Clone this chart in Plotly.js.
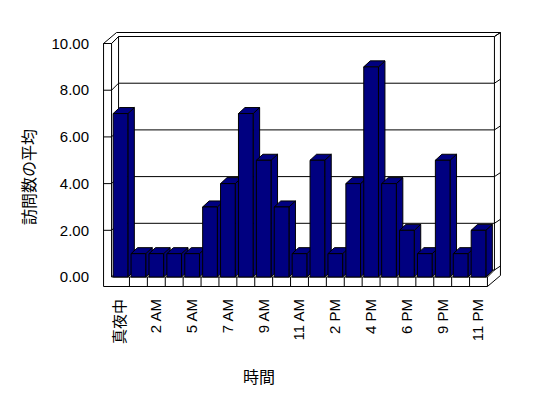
<!DOCTYPE html>
<html><head><meta charset="utf-8">
<script src="https://cdn.plot.ly/plotly-3.0.1.min.js"></script>
<style>html,body{margin:0;padding:0;background:#fff}</style>
</head><body><div id="chart" style="width:548px;height:398px"></div>
<script>
// ---- data ----
const categories = ['真夜中','1 AM','2 AM','3 AM','5 AM','6 AM','7 AM','8 AM','9 AM','10 AM','11 AM','正午','2 PM','3 PM','4 PM','5 PM','6 PM','7 PM','9 PM','10 PM','11 PM'];
const visits = [7,1,1,1,1,3,4,7,5,3,1,5,1,4,9,4,2,1,5,1,2];
const yTickValues = [0,2,4,6,8,10];
const xTitle = '時間';
const yTitle = '訪問数の平均';

// ---- geometry (in axis units) ----
const n = categories.length;
const idx = categories.map((c,i)=>i);
const BW = 0.82, BDX = 0.363, BDY = 0.257;       // bar width, bar depth offset
const DX = 0.391, DY = 0.30;                      // wall depth offset
const TX = 0.335, TY = 0.171;                     // wall thickness offset
const XL = -0.5, XR = n - 0.5, XO = XL - 0.447, YF = -0.407;
const YMAX = yTickValues[yTickValues.length-1];
const NAVY = '#000080';

const shapes = [];
function ln(x0,y0,x1,y1){shapes.push({type:'line',xref:'x',yref:'y',x0,y0,x1,y1,layer:'below',line:{color:'#000',width:1}});}
function poly(pts){
  const d = 'M' + pts.map(p=>p[0]+','+p[1]).join(' L') + ' Z';
  shapes.push({type:'path',xref:'x',yref:'y',path:d,layer:'below',fillcolor:NAVY,line:{color:'#000',width:1}});
}
// left wall
ln(XO,YF,XO,YMAX); ln(XL,0,XL,YMAX); ln(XO,YMAX,XL,YMAX);
ln(XL,YMAX,XL+DX,YMAX+DY);
ln(XO,YMAX,XO+DX+TX,YMAX+DY+TY);
ln(XL+DX,DY,XL+DX,YMAX+DY);
// back wall
ln(XO+DX+TX,YMAX+DY+TY,XR+DX+TX,YMAX+DY+TY);
ln(XR+DX,YMAX+DY,XR+DX+TX,YMAX+DY+TY);
ln(XR+DX,DY,XR+DX,YMAX+DY);
ln(XR+DX+TX,YF+DY+TY,XR+DX+TX,YMAX+DY+TY);
// gridlines
yTickValues.forEach(v=>{
  if(v>0) ln(XO,v,XL,v);
  ln(XL,v,XL+DX,v+DY);
  ln(XL+DX,v+DY,XR+DX,v+DY);
  ln(XR+DX,v+DY,XR+DX+TX,v+DY+TY);
});
// floor
ln(XL,0,XR,0); ln(XO,YF,XR,YF); ln(XR,YF,XR,0);
ln(XR,0,XR+DX,DY); ln(XR,YF,XR+DX+TX,YF+DY+TY);
for(let i=0;i<n-1;i++) ln(i+0.5,YF,i+0.5,0);
// bar sides and tops
visits.forEach((v,i)=>{
  const xl=i-BW/2, xr=i+BW/2;
  poly([[xr,0],[xr,v],[xr+BDX,v+BDY],[xr+BDX,BDY]]);
  poly([[xl,v],[xr,v],[xr+BDX,v+BDY],[xl+BDX,v+BDY]]);
});

const FONT = 'Liberation Sans, Arial, Noto Sans CJK JP, sans-serif';
const trace = {type:'bar', x:idx, y:visits, width:BW, marker:{color:NAVY,line:{color:'#000',width:1}}, hoverinfo:'skip'};
const layout = {
  width:548, height:398, margin:{l:103,r:46,t:32,b:111},
  paper_bgcolor:'#fff', plot_bgcolor:'rgba(0,0,0,0)', showlegend:false,
  font:{family:FONT,color:'#000',size:15},
  xaxis:{range:[-0.978,21.313], showgrid:false, zeroline:false, showline:false,
    tickmode:'array', tickvals:idx.filter(i=>i%2===0), ticktext:categories.filter((c,i)=>i%2===0),
    tickangle:-90, ticks:'outside', ticklen:5, tickcolor:'rgba(0,0,0,0)', tickfont:{size:15}, fixedrange:true},
  yaxis:{range:[-0.428,10.493], showgrid:false, zeroline:false, showline:false,
    tickmode:'array', tickvals:yTickValues, ticktext:yTickValues.map(v=>v.toFixed(2)),
    ticks:'outside', ticklen:10, tickcolor:'rgba(0,0,0,0)', tickfont:{size:15}, fixedrange:true},
  shapes:shapes,
  annotations:[
    {text:xTitle, xref:'paper', yref:'paper', x:0.391, y:-0.353, showarrow:false, font:{size:16}, xanchor:'center', yanchor:'middle'},
    {text:yTitle, xref:'paper', yref:'paper', x:-0.183, y:0.4314, showarrow:false, font:{size:16}, textangle:-90, xanchor:'center', yanchor:'middle'}
  ]
};
Plotly.newPlot('chart',[trace],layout,{staticPlot:true,displayModeBar:false});
</script></body></html>
